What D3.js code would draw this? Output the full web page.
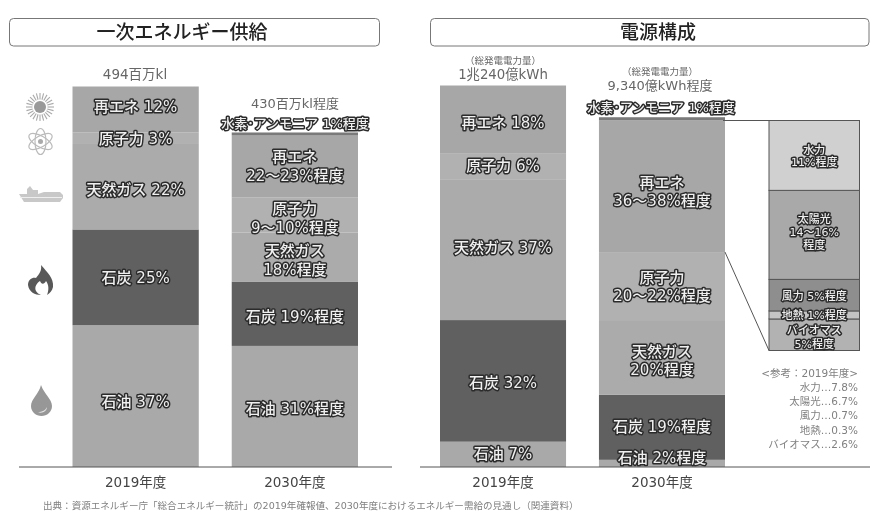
<!DOCTYPE html>
<html>
<head>
<meta charset="utf-8">
<script src="https://cdn.jsdelivr.net/npm/d3@7"></script>
<style>
  html, body { margin: 0; padding: 0; background: #fff; }
  svg { display: block; font-family: "DejaVu Sans", "Noto Sans CJK JP", sans-serif; filter: blur(0.45px); }
  .seg-label { fill: #f0f0f0; stroke: #2b2b2b; stroke-width: 3px; paint-order: stroke; stroke-linejoin: round; font-weight: 500; text-anchor: middle; dominant-baseline: central; }
  .note { fill: #666; text-anchor: middle; dominant-baseline: central; }
  .year text { fill: #444; font-size: 13.5px; font-family: "DejaVu Sans", "Noto Sans CJK JP", sans-serif; }
</style>
</head>
<body>
<svg id="chart" width="879" height="517"></svg>
<script>
const years = ['2019年度', '2030年度']
const fuels = ['oil', 'coal', 'gas', 'nuclear', 'renew', 'hydrogen']

// segment heights, in % of the 2019 bar
const oilSupply = [37, 31.6]
const coalSupply = [25, 16.8]
const gasSupply = [22.3, 12.8]
const nuclearSupply = [3, 9.1]
const renewSupply = [12, 16.2]
const hydrogenSupply = [0, 0.8]

const oilPower = [6.7, 1.9]
const coalPower = [32.2, 17.2]
const gasPower = [37.3, 19.8]
const nuclearPower = [6.9, 18]
const renewPower = [17.9, 34.9]
const hydrogenPower = [0, 0.8]

const renewParts = ['biomass', 'geothermal', 'wind', 'solar', 'hydro']
const renewPartValues = [5.1, 1.3, 5.1, 14.4, 11.3]

const supplyTotals = ['494百万kl', '430百万kl程度']
const powerTotals = ['1兆240億kWh', '9,340億kWh程度']
const powerTotalNote = '（総発電電力量）'
const hydrogenLabel = '水素･アンモニア 1%程度'

const supplyLabels = [
  { oil: ['石油 37%'], coal: ['石炭 25%'], gas: ['天然ガス 22%'], nuclear: ['原子力 3%'], renew: ['再エネ 12%'] },
  { oil: ['石油 31%程度'], coal: ['石炭 19%程度'], gas: ['天然ガス', '18%程度'], nuclear: ['原子力', '9～10%程度'], renew: ['再エネ', '22～23%程度'] }
]
const powerLabels = [
  { oil: ['石油 7%'], coal: ['石炭 32%'], gas: ['天然ガス 37%'], nuclear: ['原子力 6%'], renew: ['再エネ 18%'] },
  { oil: ['石油 2%程度'], coal: ['石炭 19%程度'], gas: ['天然ガス', '20%程度'], nuclear: ['原子力', '20～22%程度'], renew: ['再エネ', '36～38%程度'] }
]
const renewPartLabels = {
  hydro: ['水力', '11%程度'],
  solar: ['太陽光', '14～16%', '程度'],
  wind: ['風力 5%程度'],
  geothermal: ['地熱 1%程度'],
  biomass: ['バイオマス', '5%程度']
}
const reference2019 = ['<参考：2019年度>', '水力…7.8%', '太陽光…6.7%', '風力…0.7%', '地熱…0.3%', 'バイオマス…2.6%']
const sourceText = '出典：資源エネルギー庁「総合エネルギー統計」の2019年確報値、2030年度におけるエネルギー需給の見通し（関連資料）'

const fuelColor = { oil: '#a9a9a9', coal: '#606060', gas: '#ababab', nuclear: '#b1b1b1', renew: '#a7a7a7', hydrogen: '#7a7a7a' }
const partColor = { hydro: '#d0d0d0', solar: '#a9a9a9', wind: '#8e8e8e', geothermal: '#c4c4c4', biomass: '#b2b2b2' }

const svg = d3.select('#chart')
const baseY = 467

const drawHeader = (x, width, title, titleX) => {
  svg.append('rect').attr('x', x).attr('y', 18.5).attr('width', width).attr('height', 27.5)
    .attr('rx', 4).attr('fill', '#fff').attr('stroke', '#777').attr('stroke-width', 1)
  svg.append('text').attr('x', titleX).attr('y', 32).attr('text-anchor', 'middle')
    .attr('dominant-baseline', 'central').attr('font-size', 19).attr('font-weight', 500).attr('fill', '#222').text(title)
}

const drawLabel = (x, centers, lines, size) => {
  lines.forEach((line, i) => {
    svg.append('text').attr('class', 'seg-label').attr('x', x).attr('y', centers[i])
      .attr('font-size', size).text(line)
  })
}

const drawPanel = (range, top, maxValue, series, labels, labelY) => {
  const x = d3.scaleBand().domain(years).range(range).paddingInner(0.207)
  const y = d3.scaleLinear().domain([0, maxValue]).range([baseY, top])
  const rows = years.map((year, i) => {
    const row = { year }
    fuels.forEach((f) => { row[f] = series[f][i] })
    return row
  })
  const stacked = d3.stack().keys(fuels)(rows)

  svg.append('g').selectAll('g').data(stacked).enter().append('g')
    .attr('fill', (d) => fuelColor[d.key])
    .selectAll('rect').data((d) => d).enter().append('rect')
    .attr('x', (d) => x(d.data.year))
    .attr('y', (d) => y(d[1]))
    .attr('width', x.bandwidth())
    .attr('height', (d) => y(d[0]) - y(d[1]))

  years.forEach((year, i) => {
    const cx = x(year) + x.bandwidth() / 2
    fuels.slice(0, 5).forEach((f) => {
      drawLabel(cx, labelY[i][f], labels[i][f], 15)
    })
  })

  svg.append('g').attr('class', 'year')
    .attr('transform', `translate(0,${baseY + 8})`)
    .call(d3.axisBottom(x).tickSize(0).tickPadding(2))
    .call((g) => g.select('.domain').remove())
  return { x, y }
}

drawHeader(9.5, 370, '一次エネルギー供給', 182)
drawHeader(430.5, 438.5, '電源構成', 658)

// label centres per bar, they do not sit exactly mid segment in the original
const supplyLabelY = [
  { oil: [402], coal: [278], gas: [190], nuclear: [138.5], renew: [107] },
  { oil: [409], coal: [316.5], gas: [251, 270], nuclear: [209, 227.5], renew: [157, 175.5] }
]
const powerLabelY = [
  { oil: [454], coal: [382.5], gas: [248], nuclear: [166], renew: [122.5] },
  { oil: [458], coal: [426.5], gas: [351.5, 370], nuclear: [278, 296], renew: [182.5, 200.5] }
]

const supplySeries = { oil: oilSupply, coal: coalSupply, gas: gasSupply, nuclear: nuclearSupply, renew: renewSupply, hydrogen: hydrogenSupply }
const powerSeries = { oil: oilPower, coal: coalPower, gas: gasPower, nuclear: nuclearPower, renew: renewPower, hydrogen: hydrogenPower }

drawPanel([72.5, 358], 86.5, 99.3, supplySeries, supplyLabels, supplyLabelY)
const right = drawPanel([440, 725], 85.5, 101, powerSeries, powerLabels, powerLabelY)

svg.append('line').attr('x1', 19).attr('x2', 392).attr('y1', baseY).attr('y2', baseY).attr('stroke', '#555')
svg.append('line').attr('x1', 420).attr('x2', 870).attr('y1', baseY).attr('y2', baseY).attr('stroke', '#555')

drawLabel(295, [123.5], [hydrogenLabel], 13)
drawLabel(661, [107.5], [hydrogenLabel], 13)

// totals above the bars
const note = (x, y, text, size) => svg.append('text').attr('class', 'note').attr('x', x).attr('y', y).attr('font-size', size).text(text)
note(135, 74, supplyTotals[0], 13.5)
note(295, 103, supplyTotals[1], 13)
note(503, 60, powerTotalNote, 9.5)
note(503, 74, powerTotals[0], 13.3)
note(660, 71, powerTotalNote, 9.5)
note(660, 85, powerTotals[1], 13)

// breakdown of the 2030 renewables
const insetX = 769
const insetW = 90.5
const insetY = d3.scaleLinear().domain([0, d3.sum(renewPartValues)]).range([350.5, 120.5])
const insetRows = d3.stack().keys(renewParts)([Object.fromEntries(renewParts.map((p, i) => [p, renewPartValues[i]]))])
svg.append('g').selectAll('rect').data(insetRows).enter().append('rect')
  .attr('x', insetX).attr('width', insetW)
  .attr('y', (d) => insetY(d[0][1]))
  .attr('height', (d) => insetY(d[0][0]) - insetY(d[0][1]))
  .attr('fill', (d) => partColor[d.key])
  .attr('stroke', '#555').attr('stroke-width', 1)

const partLabelY = { hydro: [150, 162.5], solar: [219, 232.5, 245.5], wind: [296.5], geothermal: [315], biomass: [330.5, 344.5] }
renewParts.forEach((p) => drawLabel(insetX + insetW / 2, partLabelY[p], renewPartLabels[p], 11))

// lines from the 2030 renewables segment to the breakdown
const rx = right.x('2030年度') + right.x.bandwidth()
const link = d3.line()
svg.append('path').attr('d', link([[rx - 2, 120.5], [insetX, 120.5]]))
  .attr('stroke', '#555').attr('fill', 'none')
svg.append('path').attr('d', link([[rx, right.y(oilPower[1] + coalPower[1] + gasPower[1] + nuclearPower[1])], [insetX, 350.5]]))
  .attr('stroke', '#555').attr('fill', 'none')

reference2019.forEach((line, i) => {
  svg.append('text').attr('x', 858).attr('y', 372.7 + i * 14.2).attr('text-anchor', 'end')
    .attr('dominant-baseline', 'central').attr('font-size', 10.5).attr('fill', '#808080').text(line)
})

svg.append('text').attr('x', 43).attr('y', 505).attr('dominant-baseline', 'central')
  .attr('font-size', 9.55).attr('fill', '#808080').text(sourceText)

// icons
const sun = svg.append('g').attr('transform', 'translate(40,107)').attr('stroke', '#aaa').attr('fill', 'none')
d3.range(24).forEach((i) => {
  const a = i * Math.PI / 12
  sun.append('line').attr('x1', 7.5 * Math.cos(a)).attr('y1', 7.5 * Math.sin(a))
    .attr('x2', 14 * Math.cos(a)).attr('y2', 14 * Math.sin(a)).attr('stroke-width', 1.1)
})
sun.append('circle').attr('r', 6).attr('fill', '#999').attr('stroke', 'none')

const atom = svg.append('g').attr('transform', 'translate(40.5,141.5)').attr('stroke', '#bbb').attr('fill', 'none')
;[0, 60, 120].forEach((a) => {
  atom.append('ellipse').attr('rx', 13).attr('ry', 5.5).attr('transform', `rotate(${a + 30})`).attr('stroke-width', 1.2)
})
atom.append('circle').attr('r', 2.5).attr('fill', '#aaa').attr('stroke', 'none')

svg.append('path').attr('fill', '#c8c8c8')
  .attr('d', 'M19,194 L27,194 L27,189 L30,186 L33,190 L38,190 L38,194 L44,192 L60,192 L63,195 L63,198 L60,202 L24,202 Z')
svg.append('path').attr('fill', '#eee').attr('d', 'M20,197 L62,197 L62,198 L20,198 Z')

svg.append('path').attr('fill', '#585858')
  .attr('d', 'M41,265 C47,272 54,278 53,287 C52,291 50,293 47,295 C49,290 49,285 46,281 C44,285 41,284 40,281 C37,283 34,287 36,291 C37,293 39,294 41,295 C35,295 29,292 28,285 C28,279 33,277 36,278 C39,274 42,271 41,265 Z')

svg.append('path').attr('fill', '#979797')
  .attr('d', 'M41,385 C44,394 52,399 52,406 C52,412 47,416 41.5,416 C36,416 31,412 31,406 C31,399 39,394 41,385 Z')
svg.append('path').attr('fill', '#e6e6e6').attr('d', 'M38,412 C42,412 46,410 47,407 C47,411 42,414 38,412 Z')
</script>
</body>
</html>
